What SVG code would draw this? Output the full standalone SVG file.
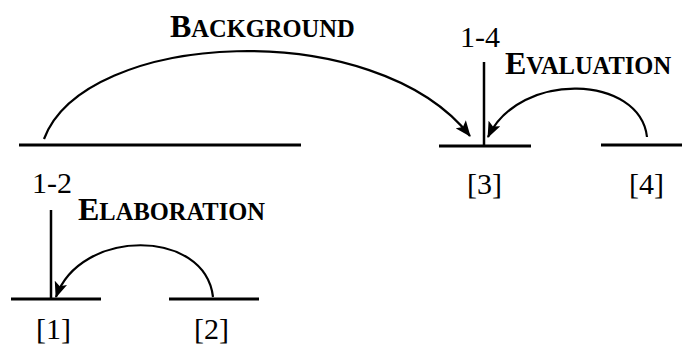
<svg xmlns="http://www.w3.org/2000/svg" width="682" height="345" viewBox="0 0 682 345">
<style>
.seg{stroke:#000;stroke-width:3;fill:none}
.vert{stroke:#000;stroke-width:2.5;fill:none}
.arc{stroke:#000;stroke-width:2.2;fill:none;marker-end:url(#ah)}
.num{font-family:"Liberation Serif","Times New Roman",serif;font-size:30px;fill:#000}
.rel{font-family:"Liberation Serif","Times New Roman",serif;font-weight:bold;font-size:32px;fill:#000}
.sc{font-size:24.5px}
</style>
<defs>
<marker id="ah" markerUnits="userSpaceOnUse" markerWidth="16" markerHeight="13" refX="15" refY="6.5" orient="auto" viewBox="0 0 16 13">
<path d="M0,0 L16,6.5 L0,13 L3.5,6.5 z" fill="#000"/>
</marker>
</defs>
<rect width="682" height="345" fill="#fff"/>
<g id="span-1-2">
<line class="seg" x1="19" y1="145" x2="301" y2="145"/>
<text class="num" x="32" y="193">1-2</text>
</g>
<g id="node-3">
<line class="seg" x1="439" y1="146" x2="531" y2="146"/>
<line class="vert" x1="484" y1="62" x2="484" y2="145"/>
<text class="num" x="460" y="47">1-4</text>
<text class="num" x="484.5" y="194" text-anchor="middle">[3]</text>
</g>
<g id="node-4">
<line class="seg" x1="601" y1="145" x2="682" y2="145"/>
<text class="num" x="646.5" y="194" text-anchor="middle">[4]</text>
</g>
<g id="node-1">
<line class="seg" x1="11" y1="299" x2="101" y2="299"/>
<line class="vert" x1="51" y1="210" x2="51" y2="298"/>
<text class="num" x="53.5" y="339" text-anchor="middle">[1]</text>
</g>
<g id="node-2">
<line class="seg" x1="169" y1="299" x2="259" y2="299"/>
<text class="num" x="211.5" y="339" text-anchor="middle">[2]</text>
</g>
<g id="connectors">
<path class="arc" d="M44,139 C85,30 375,15 470,136"/>
<path class="arc" d="M647,137 C640,75 520,70 488,137"/>
<path class="arc" d="M213,297 C205,228 80,228 56,297"/>
<text class="rel" x="170" y="37">B<tspan class="sc">ACKGROUND</tspan></text>
<text class="rel" x="505" y="74">E<tspan class="sc">VALUATION</tspan></text>
<text class="rel" x="78" y="220">E<tspan class="sc">LABORATION</tspan></text>
</g>
</svg>
